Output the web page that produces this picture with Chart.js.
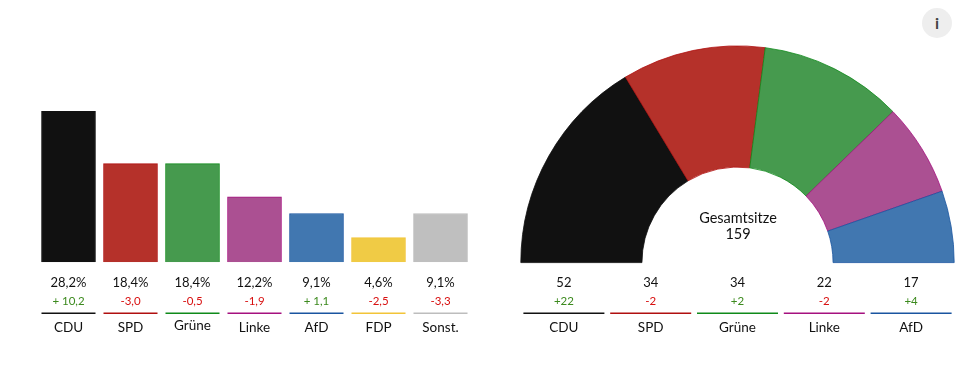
<!DOCTYPE html>
<html lang="de">
<head>
<meta charset="utf-8">
<title>Landtagswahl</title>
<script src="https://cdn.jsdelivr.net/npm/chart.js@4"></script>
<style>
  html, body { margin: 0; padding: 0; background: #fff; }
  body { width: 980px; height: 365px; position: relative; overflow: hidden; }
  canvas { position: absolute; top: 0; }
  #myChart1 { left: 0; }
  #myChart2 { left: 490px; }
  #info {
    position: absolute; left: 922px; top: 8px; width: 30px; height: 30px;
    border-radius: 50%; background: #eeeeee; color: #444;
    font: bold 16px/30px Lato, sans-serif; text-align: center;
  }
</style>
</head>
<body>
<canvas id="myChart1" width="490" height="365"></canvas>
<canvas id="myChart2" width="490" height="365"></canvas>
<div id="info">i</div>
<script>
var voteLabels = ['CDU', 'SPD', 'Grüne', 'Linke', 'AfD', 'FDP', 'Sonst.'];
var voteValues = [28.2, 18.4, 18.4, 12.2, 9.1, 4.6, 9.1];
var voteDiffs = ['+ 10,2', '-3,0', '-0,5', '-1,9', '+ 1,1', '-2,5', '-3,3'];
var voteColors = ['#111111', '#b5312a', '#469a4e', '#ab5092', '#4177b0', '#f0cb45', '#bfbfbf'];
var voteLines = ['#111111', '#b00f0f', '#0f8a1a', '#a5107f', '#1a55a0', '#f2c438', '#bdbdbd'];

var seatLabels = ['CDU', 'SPD', 'Grüne', 'Linke', 'AfD'];
var seatValues = [52, 34, 34, 22, 17];
var seatDiffs = ['+22', '-2', '+2', '-2', '+4'];
var seatColors = voteColors.slice(0, 5);
var seatLines = voteLines.slice(0, 5);
var seatTotal = 159;

const fontName = 'Lato, sans-serif';
const textColor = '#111111';
const plusColor = '#3c8a1e';
const minusColor = '#d81010';

// value, difference, coloured rule and party name under each column
function drawRows(ctx, centers, halfWidth, values, diffs, lines, labels, grueneShift) {
    ctx.save();
    ctx.textAlign = 'center';
    ctx.textBaseline = 'middle';
    centers.forEach(function (x, i) {
        ctx.fillStyle = textColor;
        ctx.font = '13px ' + fontName;
        ctx.fillText(values[i], x, 282.5);

        ctx.fillStyle = diffs[i].charAt(0) === '+' ? plusColor : minusColor;
        ctx.font = '11.5px ' + fontName;
        ctx.fillText(diffs[i], x, 301.5);

        ctx.fillStyle = lines[i];
        ctx.fillRect(x - halfWidth, 312.5, halfWidth * 2, 1.5);

        ctx.fillStyle = textColor;
        ctx.font = '13.5px ' + fontName;
        ctx.fillText(labels[i], x, labels[i] === 'Grüne' ? 327.5 - grueneShift : 327.5);
    });
    ctx.restore();
}

const voteRows = {
    id: 'voteRows',
    afterDraw: function (chart) {
        var xScale = chart.scales.x;
        var centers = voteLabels.map(function (label, i) { return xScale.getPixelForValue(i); });
        var shown = voteValues.map(function (v) { return v.toFixed(1).replace('.', ',') + '%'; });
        drawRows(chart.ctx, centers, 27, shown, voteDiffs, voteLines, voteLabels, 1.5);
    }
};

const seatRows = {
    id: 'seatRows',
    afterDraw: function (chart) {
        var area = chart.chartArea;
        var middle = (area.left + area.right) / 2;
        var step = 86.8;
        var centers = seatLabels.map(function (label, i) { return middle + step * (i - 2); });
        drawRows(chart.ctx, centers, 40.5, seatValues.map(String), seatDiffs, seatLines, seatLabels, 0);

        var ctx = chart.ctx;
        ctx.save();
        ctx.textAlign = 'center';
        ctx.textBaseline = 'middle';
        ctx.fillStyle = textColor;
        ctx.font = '14.5px ' + fontName;
        ctx.fillText('Gesamtsitze', middle + 0.5, 218.5);
        ctx.fillText(String(seatTotal), middle + 0.5, 234.5);
        ctx.restore();
    }
};

new Chart(document.getElementById('myChart1').getContext('2d'), {
    type: 'bar',
    data: {
        labels: voteLabels,
        datasets: [{
            data: voteValues,
            backgroundColor: voteColors,
            borderColor: voteLines,
            borderWidth: 1,
            barThickness: 54
        }]
    },
    options: {
        responsive: false,
        animation: false,
        layout: { padding: { left: 37.5, right: 18.5, top: 101.6, bottom: 102.8 } },
        scales: {
            x: { display: false },
            y: { display: false, min: 0, max: 30 }
        },
        plugins: { legend: { display: false }, tooltip: { enabled: false } }
    },
    plugins: [voteRows]
});

new Chart(document.getElementById('myChart2').getContext('2d'), {
    type: 'doughnut',
    data: {
        labels: seatLabels,
        datasets: [{
            data: seatValues,
            backgroundColor: seatColors,
            borderColor: seatLines,
            borderWidth: 0.8
        }]
    },
    options: {
        responsive: false,
        animation: false,
        rotation: -90,
        circumference: 180,
        cutout: '44.1%',
        layout: { padding: { left: 30, right: 25, top: 45.5, bottom: 102 } },
        plugins: { legend: { display: false }, tooltip: { enabled: false } }
    },
    plugins: [seatRows]
});
</script>
</body>
</html>
